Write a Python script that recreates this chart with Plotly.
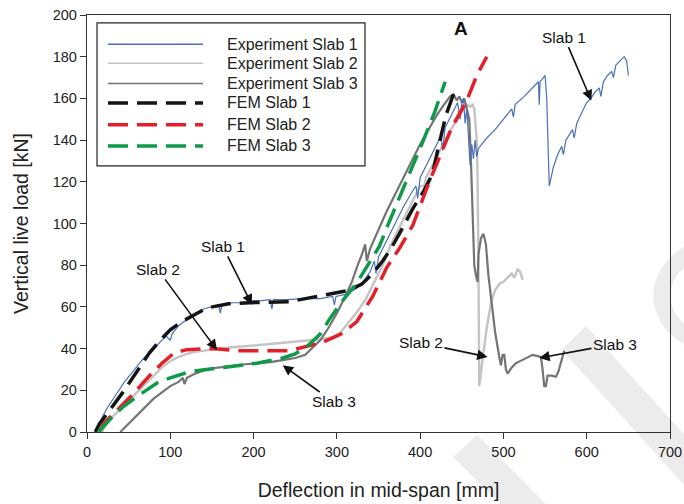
import plotly.graph_objects as go

# ---------------- data ----------------
exp1_x = [10, 13, 18, 25, 35, 45, 55, 65, 75, 85, 95, 100, 102, 110, 120, 130, 140, 150, 158, 160, 162, 175, 190, 200, 210, 220, 222, 224, 240, 260, 280, 295, 297, 299, 310, 320, 330, 340, 345, 347, 350, 360, 370, 380, 390, 395, 397, 400, 410, 420, 425, 427, 430, 440, 445, 448, 450, 452, 454, 456, 458, 460, 462, 464, 466, 468, 470, 480, 490, 500, 510, 512, 514, 525, 535, 542, 543, 544, 548, 550, 552, 555, 560, 565, 570, 572, 575, 583, 585, 588, 595, 600, 605, 610, 615, 617, 620, 625, 630, 632, 635, 640, 645, 648, 650]
exp1_y = [0, 3, 7, 12, 18, 24, 29, 34, 38, 42, 46, 44, 47, 51, 54, 57, 59, 60, 61, 57, 61, 62, 62, 63, 63, 63.5, 59, 63.5, 63.5, 64, 64, 65, 61, 65, 66, 68, 71, 77, 82, 76, 84, 92, 100, 108, 115, 118, 112, 122, 130, 138, 142, 135, 146, 154, 158, 150, 158, 160, 148, 155, 140, 128, 138, 131, 140, 132, 136, 141, 145, 150, 155, 151, 157, 161, 165, 168, 157, 168, 170, 171, 160, 118, 127, 133, 137, 133, 140, 145, 141, 148, 154, 158, 160, 163, 165, 161, 168, 171, 173, 170, 176, 178, 180, 178, 171]

exp2_x = [18, 22, 30, 40, 50, 60, 70, 80, 90, 100, 110, 120, 130, 150, 170, 200, 230, 260, 280, 295, 305, 315, 325, 335, 345, 355, 365, 375, 385, 395, 400, 405, 407, 415, 425, 435, 445, 452, 456, 460, 463, 465, 468, 469, 470, 471, 475, 480, 485, 490, 495, 500, 505, 510, 513, 517, 520, 523]
exp2_y = [0, 3, 7, 11, 15, 19, 23, 27, 31, 34, 36, 37.5, 38.5, 39.5, 40.5, 41.5, 42.5, 43.5, 44.5, 45.5, 48, 53, 58, 64, 72, 80, 90, 98, 106, 114, 118, 118, 122, 128, 136, 144, 150, 155, 157, 156, 157, 155, 140, 120, 80, 22, 35, 50, 62, 68, 71, 72, 74, 76, 74, 78, 77, 73]

exp3_x = [40, 45, 52, 60, 70, 80, 90, 100, 110, 115, 117, 120, 130, 140, 150, 160, 175, 190, 205, 220, 235, 250, 262, 272, 280, 290, 300, 310, 318, 325, 330, 334, 336, 340, 350, 360, 370, 380, 390, 400, 410, 420, 427, 432, 436, 440, 444, 447, 450, 453, 456, 459, 461, 463, 465, 467, 469, 470, 473, 476, 479, 482, 486, 490, 495, 497, 499, 501, 503, 505, 510, 515, 520, 525, 530, 535, 540, 545, 547, 549, 551, 553, 558, 563, 566, 569, 573]
exp3_y = [0, 2, 5, 8, 12, 16, 19, 22, 24, 26, 23, 26, 28, 29.5, 30.5, 31, 32, 32.5, 33, 33.5, 34.5, 35.5, 37, 41, 44, 50, 57, 65, 72, 80, 85, 90, 82, 88, 97, 106, 114, 122, 130, 138, 145, 152, 156, 159, 161, 162, 159, 161, 158, 160, 155, 150, 130, 100, 80, 75, 72, 85, 93, 95, 90, 75, 60, 48, 36, 32, 37, 37, 30, 28, 31, 33, 34, 35, 36, 37, 36.5, 36, 30, 22, 22, 27, 27, 26.5, 29, 33, 39]

fem1_x = [10, 12, 15, 19, 30, 43, 60, 75, 88, 100, 112, 124, 144, 170, 195, 243, 283, 315, 330, 343, 355, 365, 375, 391, 405, 415, 421, 431, 440]
fem1_y = [0, 2, 4, 6, 12, 19, 29, 38, 44, 49, 52.5, 55, 59.5, 61.5, 62, 62.5, 65.5, 68, 71, 76, 82, 88, 95, 107, 116, 124, 135, 152, 162]

fem2_x = [15, 20, 30, 43, 55, 75, 90, 105, 120, 150, 183, 243, 283, 305, 324, 343, 360, 375, 391, 411, 438, 456, 468, 480]
fem2_y = [0, 4, 8, 13, 18, 27, 33, 38, 39.5, 40, 39, 39, 43, 47, 53, 65, 79, 88, 99, 120, 146, 159, 171, 180]

fem3_x = [14, 16, 25, 43, 60, 84, 100, 124, 163, 204, 235, 250, 264, 280, 291, 305, 324, 340, 351, 360, 375, 390, 403, 418, 430]
fem3_y = [0, 1, 5, 12, 17, 23.5, 26, 29, 31, 33, 35.5, 37.5, 41, 47, 54, 62, 71.5, 82, 89, 98, 112, 126, 139, 154, 168]

legend_names = ["Experiment Slab 1", "Experiment Slab 2", "Experiment Slab 3",
                "FEM Slab 1", "FEM Slab 2", "FEM Slab 3"]

x_ticks = [0, 100, 200, 300, 400, 500, 600, 700]
y_ticks = [0, 20, 40, 60, 80, 100, 120, 140, 160, 180, 200]

# annotations: (label, text_x, text_y, head_x, head_y)
arrow_notes = [
    ("Slab 1", 163, 89, 198, 61),
    ("Slab 2", 85, 78, 156, 39.3),
    ("Slab 3", 296, 14.4, 235, 32),
    ("Slab 1", 573, 189.4, 605.5, 159),
    ("Slab 2", 401, 42.7, 481, 36),
    ("Slab 3", 634, 42.2, 543, 35.5),
]

# ---------------- styles ----------------
FONT = "Liberation Sans, Arial, sans-serif"
styles = [
    dict(color="#4a70b6", width=1.2),
    dict(color="#c4c4c4", width=2.4),
    dict(color="#747474", width=2.2),
    dict(color="#141414", width=3.5, dash="20px,9px"),
    dict(color="#e3202a", width=3.5, dash="20px,9px"),
    dict(color="#0e9a48", width=3.5, dash="20px,9px"),
]
series = [(exp1_x, exp1_y), (exp2_x, exp2_y), (exp3_x, exp3_y),
          (fem1_x, fem1_y), (fem2_x, fem2_y), (fem3_x, fem3_y)]
order = [1, 2, 0, 3, 4, 5]

fig = go.Figure()
for i in order:
    xs, ys = series[i]
    fig.add_trace(go.Scatter(x=xs, y=ys, mode="lines", name=legend_names[i],
                             line=styles[i], showlegend=False, hoverinfo="skip"))

shapes = []
annos = []

# watermark (light grey decorative background strokes, paper-level)
wm = "#ececec"
shapes.append(dict(type="path", xref="paper", yref="paper", layer="below",
                   path="M 0.628,-0.060 L 0.669,-0.007 L 0.840,-0.247 L 0.799,-0.300 Z",
                   fillcolor=wm, line=dict(width=0)))
shapes.append(dict(type="path", xref="paper", yref="paper", layer="below",
                   path="M 0.814,0.197 L 0.856,0.254 L 1.15,-0.20 L 1.11,-0.26 Z",
                   fillcolor=wm, line=dict(width=0)))
shapes.append(dict(type="circle", xref="paper", yref="paper", layer="below",
                   x0=0.986, x1=1.252, y0=0.194, y1=0.460,
                   line=dict(color=wm, width=17), fillcolor="rgba(0,0,0,0)"))

# custom legend
shapes.append(dict(type="rect", xref="paper", yref="paper",
                   x0=0.0172, x1=0.4768, y0=0.638, y1=0.981,
                   line=dict(color="#222", width=1.2), fillcolor="white"))
row_y = [0.930, 0.884, 0.836, 0.789, 0.737, 0.686]
for k, i in enumerate(range(6)):
    st = styles[i]
    shapes.append(dict(type="line", xref="paper", yref="paper",
                       x0=0.036, x1=0.199, y0=row_y[k], y1=row_y[k],
                       line=dict(color=st["color"], width=st["width"] if i >= 3 else 1.5,
                                 dash=st.get("dash", "solid"))))
    annos.append(dict(x=0.237, y=row_y[k], xref="paper", yref="paper",
                      text=legend_names[i], showarrow=False, xanchor="left",
                      yanchor="middle", font=dict(size=16, color="#222", family=FONT)))

for lab, tx, ty, hx, hy in arrow_notes:
    annos.append(dict(x=hx, y=hy, xref="x", yref="y", ax=tx, ay=ty,
                      axref="x", ayref="y", text=lab, showarrow=True,
                      arrowhead=2, arrowsize=1.3, arrowwidth=1.6, arrowcolor="#111",
                      font=dict(size=15.5, color="#111", family=FONT)))

annos.append(dict(x=449, y=193.5, xref="x", yref="y", text="<b>A</b>", showarrow=False,
                  font=dict(size=19, color="#111", family=FONT)))

fig.update_layout(
    width=684, height=504,
    margin=dict(l=87, r=14, t=15, b=72, autoexpand=False),
    paper_bgcolor="white", plot_bgcolor="rgba(0,0,0,0)",
    font=dict(family=FONT, size=15, color="#222"),
    shapes=shapes, annotations=annos, showlegend=False,
    xaxis=dict(range=[0, 700], tickvals=x_ticks, ticks="outside", ticklen=6,
               showline=True, linecolor="#333", linewidth=1.3, mirror=True,
               showgrid=False, zeroline=False, tickcolor="#333", automargin=False,
               tickfont=dict(size=14.5, family=FONT),
               title=dict(text="Deflection in mid-span [mm]", font=dict(size=19.5, family=FONT), standoff=24)),
    yaxis=dict(range=[0, 200], tickvals=y_ticks, ticks="outside", ticklen=6,
               showline=True, linecolor="#333", linewidth=1.3, mirror=True,
               showgrid=False, zeroline=False, tickcolor="#333", automargin=False,
               tickfont=dict(size=14.5, family=FONT),
               title=dict(text="Vertical live load [kN]", font=dict(size=19.5, family=FONT), standoff=18)),
)

fig.write_html("out.html")
